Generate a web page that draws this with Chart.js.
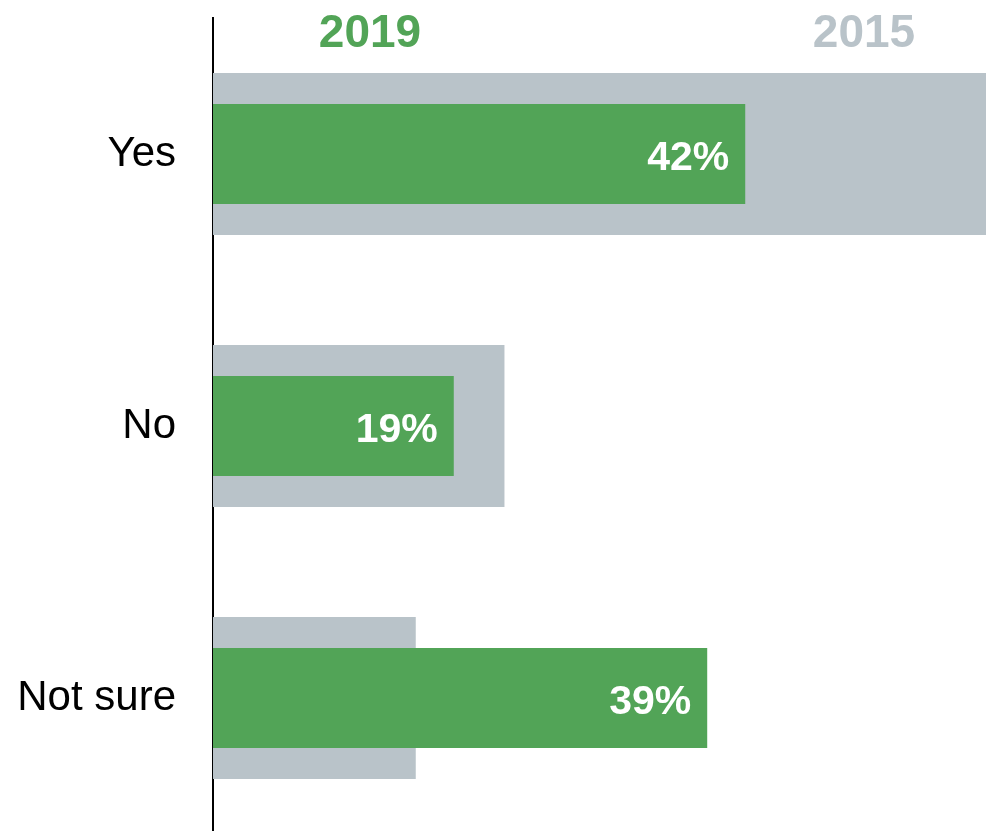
<!DOCTYPE html>
<html>
<head>
<meta charset="utf-8">
<script src="https://cdn.jsdelivr.net/npm/chart.js@4"></script>
<style>
  html, body { margin: 0; padding: 0; background: #fff; overflow: hidden; }
  #wrap { width: 986px; height: 834px; position: relative; }
</style>
</head>
<body>
<div id="wrap"><canvas id="myChart"></canvas></div>
<script>
// Categorías y valores (%)
const categories = ['Yes', 'No', 'Not sure']
const values2019 = [42, 19, 39]
const values2015 = [61, 23, 16]
const seriesNames = ['2019', '2015']

const green = '#52a457'
const gray = '#b9c3c9'
const fontFamily = '"Liberation Sans", Arial, sans-serif'

// Etiquetas de valor dentro de las barras verdes + encabezados de año
const labelsPlugin = {
    id: 'labelsPlugin',
    afterDatasetsDraw(chart) {
        const ctx = chart.ctx
        const area = chart.chartArea
        ctx.save()

        // Valores dentro de la barra 2019
        const meta = chart.getDatasetMeta(0)
        ctx.fillStyle = '#ffffff'
        ctx.font = `bold 41px ${fontFamily}`
        ctx.textAlign = 'right'
        ctx.textBaseline = 'alphabetic'
        meta.data.forEach((bar, i) => {
            ctx.fillText(`${values2019[i]}%`, bar.x - 16, bar.y + 16)
        })

        // Encabezados de año
        ctx.font = `bold 46px ${fontFamily}`
        ctx.textAlign = 'center'
        ctx.fillStyle = green
        ctx.fillText(seriesNames[0], area.left + 157, 47)
        ctx.fillStyle = gray
        ctx.fillText(seriesNames[1], area.left + 651, 47)
        ctx.restore()
    },
}

const ctx = document.getElementById('myChart')

// eslint-disable-next-line no-new, no-undef
new Chart(ctx, {
    type: 'bar',
    data: {
        labels: categories,
        datasets: [
            {
                label: seriesNames[0],
                data: values2019,
                backgroundColor: green,
                grouped: false,
                barPercentage: 0.368,
                categoryPercentage: 1,
                order: 0,
            },
            {
                label: seriesNames[1],
                data: values2015,
                backgroundColor: gray,
                grouped: false,
                barPercentage: 0.596,
                categoryPercentage: 1,
                order: 1,
            },
        ],
    },
    options: {
        indexAxis: 'y',
        responsive: true,
        maintainAspectRatio: false,
        animation: false,
        layout: { padding: { top: 18, right: 0, bottom: 0, left: 0 } },
        plugins: {
            legend: { display: false },
            tooltip: { enabled: false },
        },
        scales: {
            x: {
                display: false,
                min: 0,
                max: 61,
            },
            y: {
                afterFit(scale) {
                    scale.width = 213
                    scale.paddingTop = 0
                    scale.paddingBottom = 0
                },
                grid: { display: false, drawTicks: false },
                border: { display: true, color: '#000000', width: 2 },
                ticks: {
                    color: '#000000',
                    padding: 37,
                    font: { family: fontFamily, size: 42 },
                },
            },
        },
    },
    plugins: [labelsPlugin],
})
</script>
</body>
</html>
